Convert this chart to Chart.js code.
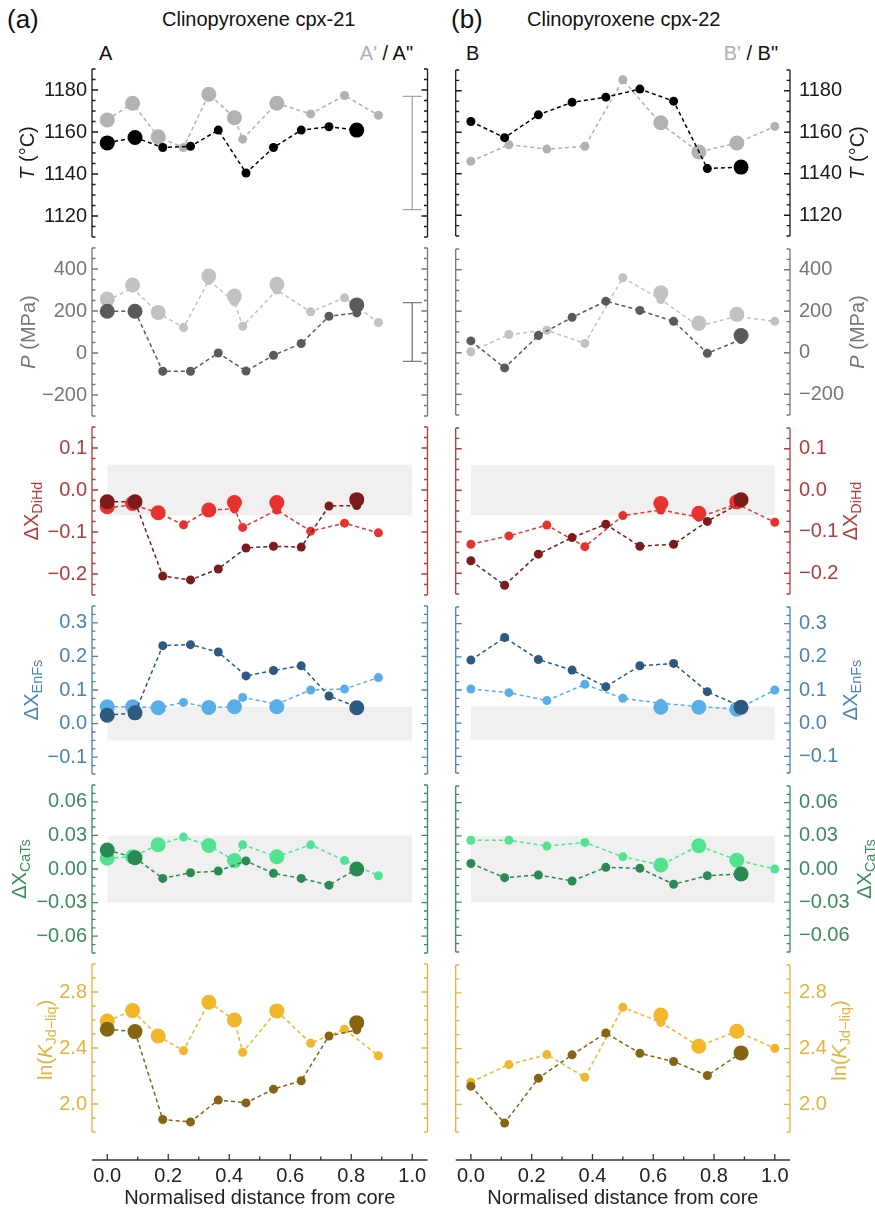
<!DOCTYPE html>
<html>
<head>
<meta charset="utf-8">
<script src="https://cdn.jsdelivr.net/npm/chart.js@4.4.1/dist/chart.umd.min.js"></script>
<style>
  body { margin: 0; background: #fff; }
  #fig { position: relative; width: 875px; height: 1212px; font-family: "Liberation Sans", Arial, sans-serif; color: #111; overflow: hidden; }
  #fig canvas { position: absolute; }
  .lbl { position: absolute; white-space: nowrap; transform: translateY(-50%); line-height: 1; }
</style>
</head>
<body>
<div id="fig">
  <div class="lbl" style="left:7px;top:19px;font-size:26px">(a)</div>
  <div class="lbl" style="left:162px;top:19px;font-size:20px">Clinopyroxene cpx-21</div>
  <div class="lbl" style="left:99px;top:53px;font-size:20px">A</div>
  <div class="lbl" style="right:462px;top:53px;font-size:20px"><span style="color:#b0b0b0">A'</span> / A"</div>
  <div class="lbl" style="left:451px;top:19px;font-size:26px">(b)</div>
  <div class="lbl" style="left:527px;top:19px;font-size:20px">Clinopyroxene cpx-22</div>
  <div class="lbl" style="left:466px;top:53px;font-size:20px">B</div>
  <div class="lbl" style="right:97px;top:53px;font-size:20px"><span style="color:#b0b0b0">B'</span> / B"</div>
</div>
<script>
// normalised positions of the analysis spots
const xA1 = [0, 0.083, 0.167, 0.25, 0.333, 0.417, 0.444, 0.556, 0.667, 0.778, 0.889]; // A'
const xA2 = [0, 0.091, 0.182, 0.273, 0.364, 0.455, 0.545, 0.636, 0.727, 0.818];        // A"
const xB1 = [0, 0.125, 0.25, 0.375, 0.5, 0.625, 0.75, 0.875, 1.0];                     // B'
const xB2 = [0, 0.111, 0.222, 0.333, 0.444, 0.556, 0.667, 0.778, 0.889];               // B"
const xTicks = [0, 0.2, 0.4, 0.6, 0.8, 1.0];

// temperature (°C)
const tA1 = [1165.7, 1173.7, 1157.7, 1152.6, 1178, 1166.8, 1156.6, 1173.7, 1168.6, 1177.4, 1168];
const tA1big = [1165.7, 1173.7, 1157.7, null, 1178, 1166.8, null, 1173.7, null, null, null];
const tA2 = [1154.8, 1157.4, 1152.6, 1153.2, 1160.9, 1140.5, 1152.6, 1160.9, 1162.5, 1160.9];
const tA2big = [1154.8, 1157.4, null, null, null, null, null, null, null, 1160.9];
const tB1 = [1146, 1154, 1151.9, 1153.2, 1185.3, 1164, 1150.5, 1154.8, 1162.8];
const tB1big = [null, null, null, null, null, 1164.6, 1150.5, 1154.8, null];
const tB2 = [1165.2, 1157.4, 1168.4, 1174.4, 1176.9, 1180.8, 1175, 1142.5, 1143.2];
const tB2big = [null, null, null, null, null, null, null, null, 1143.2];
const tTicks = [1120, 1140, 1160, 1180];
const errT = [1123, 1177];

// pressure (MPa)
const pA1 = [250, 310, 190, 121, 345, 244, 127.6, 299.6, 196, 262.8, 145];
const pA1big = [256.6, 323.5, 193, null, 366.5, 271, null, 326.8, null, null, null];
const pA2 = [199, 199, -87, -87, 0, -86, -11, 45, 175, 191];
const pA2big = [199, 199, null, null, null, null, null, null, null, 229];
const pB1 = [5, 88, 108.5, 45, 361.7, 256.6, 127.6, 175, 151.5];
const pB1big = [null, null, null, null, null, 288.6, 143, 185, null];
const pB2 = [57, -73, 83, 170.6, 248.5, 204, 151.5, -3, 64];
const pB2big = [null, null, null, null, null, null, null, null, 83];
const pTicks = [-200, 0, 200, 400];
const errP = [-40, 240];

// delta X DiHd
const dA1 = [-0.043, -0.035, -0.054, -0.083, -0.0475, -0.045, -0.089, -0.0475, -0.098, -0.079, -0.102];
const dA1big = [-0.040, -0.032, -0.054, null, -0.0475, -0.030, null, -0.030, null, null, null];
const dA2 = [-0.028, -0.028, -0.205, -0.214, -0.188, -0.138, -0.134, -0.136, -0.038, -0.037];
const dA2big = [-0.028, -0.028, null, null, null, null, null, null, null, -0.023];
const dB1 = [-0.130, -0.110, -0.084, -0.136, -0.061, -0.0475, -0.065, -0.033, -0.077];
const dB1big = [null, null, null, null, null, -0.032, -0.0555, -0.028, null];
const dB2 = [-0.170, -0.229, -0.154, -0.114, -0.082, -0.135, -0.130, -0.075, -0.029];
const dB2big = [null, null, null, null, null, null, null, null, -0.023];
const dTicks = [-0.2, -0.1, 0, 0.1];
const dBand = [-0.06, 0.06];

// delta X EnFs
const eA1 = [0.050, 0.050, 0.047, 0.063, 0.048, 0.050, 0.078, 0.058, 0.100, 0.103, 0.137];
const eA1big = [0.050, 0.050, 0.047, null, 0.048, 0.050, null, 0.050, null, null, null];
const eA2 = [0.025, 0.032, 0.232, 0.235, 0.213, 0.142, 0.158, 0.172, 0.082, 0.050];
const eA2big = [0.025, 0.032, null, null, null, null, null, null, null, 0.047];
const eB1 = [0.103, 0.092, 0.068, 0.117, 0.075, 0.060, 0.050, 0.042, 0.100];
const eB1big = [null, null, null, null, null, 0.048, 0.048, 0.042, null];
const eB2 = [0.190, 0.258, 0.192, 0.160, 0.110, 0.173, 0.180, 0.095, 0.050];
const eB2big = [null, null, null, null, null, null, null, null, 0.048];
const eTicks = [-0.1, 0, 0.1, 0.2, 0.3];
const eBand = [-0.05, 0.05];

// delta X CaTs
const cA1 = [0.0096, 0.011, 0.0216, 0.0285, 0.021, 0.0075, 0.0216, 0.011, 0.0216, 0.0075, -0.006];
const cA1big = [0.0096, 0.011, 0.0216, null, 0.021, 0.0075, null, 0.011, null, null, null];
const cA2 = [0.017, 0.010, -0.0084, -0.0033, -0.0018, 0.0072, -0.0039, -0.0084, -0.0144, 0.000];
const cA2big = [0.017, 0.010, null, null, null, null, null, null, null, 0.000];
const cB1 = [0.026, 0.026, 0.0207, 0.024, 0.011, 0.0036, 0.021, 0.008, 0.000];
const cB1big = [null, null, null, null, null, 0.0036, 0.021, 0.008, null];
const cB2 = [0.005, -0.0078, -0.0054, -0.0108, 0.0015, 0.0006, -0.0138, -0.006, -0.0045];
const cB2big = [null, null, null, null, null, null, null, null, -0.0045];
const cTicks = [-0.06, -0.03, 0, 0.03, 0.06];
const cBand = [-0.03, 0.03];

// ln(K Jd-liq)
const kA1 = [2.593, 2.667, 2.486, 2.381, 2.727, 2.6, 2.369, 2.665, 2.434, 2.534, 2.345];
const kA1big = [2.593, 2.667, 2.486, null, 2.727, 2.6, null, 2.665, null, null, null];
const kA2 = [2.534, 2.517, 1.889, 1.872, 2.028, 2.008, 2.106, 2.166, 2.486, 2.529];
const kA2big = [2.534, 2.517, null, null, null, null, null, null, null, 2.581];
const kB1 = [2.159, 2.285, 2.357, 2.194, 2.696, 2.588, 2.417, 2.524, 2.402];
const kB1big = [null, null, null, null, null, 2.641, 2.417, 2.524, null];
const kB2 = [2.130, 1.865, 2.187, 2.355, 2.512, 2.366, 2.307, 2.207, 2.369];
const kB2big = [null, null, null, null, null, null, null, null, 2.369];
const kTicks = [2.0, 2.4, 2.8];

const FONT = '"Liberation Sans", Arial, sans-serif';
const TOP0 = 69, STEP = 179, FRAME_H = 168, PAD = 20, XGAP = 28, XAXIS_H = 52;
const TICK_SIZE = 20, TITLE_SIZE = 20;

const rows = [
  { min: 1110, max: 1190, ticks: tTicks, minor: 5, dec: 0, axis: '#1a1a1a', light: '#b2b2b2', dark: '#000000',
    title: [{ t: 'T', it: true }, { t: ' (°C)' }], tx: [28, 858],
    A: [tA1, tA1big, tA2, tA2big], B: [tB1, tB1big, tB2, tB2big], err: errT, errColor: '#a5a5a5' },
  { min: -300, max: 500, ticks: pTicks, minor: 50, dec: 0, axis: '#767676', light: '#c2c2c2', dark: '#5a5a5a',
    title: [{ t: 'P', it: true }, { t: ' (MPa)' }], tx: [29, 858],
    A: [pA1, pA1big, pA2, pA2big], B: [pB1, pB1big, pB2, pB2big], err: errP, errColor: '#7a7a7a' },
  { min: -0.25, max: 0.15, ticks: dTicks, minor: 0.025, dec: 1, axis: '#b33b3b', light: '#e8322f', dark: '#7b1b1b',
    title: [{ t: 'ΔX' }, { t: 'DiHd', sub: true }], tx: [32, 851], band: dBand,
    A: [dA1, dA1big, dA2, dA2big], B: [dB1, dB1big, dB2, dB2big] },
  { min: -0.15, max: 0.35, ticks: eTicks, minor: 0.025, dec: 1, axis: '#4a84b4', light: '#5aaee8', dark: '#2c5a80',
    title: [{ t: 'ΔX' }, { t: 'EnFs', sub: true }], tx: [32, 851], band: eBand,
    A: [eA1, eA1big, eA2, eA2big], B: [eB1, eB1big, eB2, eB2big] },
  { min: -0.075, max: 0.075, ticks: cTicks, minor: 0.0075, dec: 2, axis: '#3b8c5d', light: '#52e392', dark: '#2a8a54',
    title: [{ t: 'ΔX' }, { t: 'CaTs', sub: true }], tx: [20, 865], band: cBand,
    A: [cA1, cA1big, cA2, cA2big], B: [cB1, cB1big, cB2, cB2big] },
  { min: 1.8, max: 3.0, ticks: kTicks, minor: 0.1, dec: 1, axis: '#e5b23b', light: '#f2b62a', dark: '#856514',
    title: [{ t: 'ln(' }, { t: 'K', it: true }, { t: 'Jd−liq', sub: true }, { t: ')' }], tx: [46, 840], ty: -8,
    A: [kA1, kA1big, kA2, kA2big], B: [kB1, kB1big, kB2, kB2big] }
];

const cols = [
  { key: 'A', xs: [xA1, xA2], left: 0, width: 440, pos: 'left', axisW: 92, padL: 0, padR: 12.5, tickPad: 5 },
  { key: 'B', xs: [xB1, xB2], left: 440, width: 435, pos: 'right', axisW: 85, padL: 15.7, padR: 0, tickPad: 9 }
];

const fmt = (v, dec) => v.toFixed(dec).replace('-', '\u2212');
const pts = (xs, ys) => xs.map((x, i) => ({ x, y: ys[i] })).filter((p) => p.y !== null);

function drawRich(ctx, segs, cx, cy, size, color) {
  ctx.save();
  ctx.translate(cx, cy);
  ctx.rotate(-Math.PI / 2);
  let total = 0;
  const parts = segs.map((s) => {
    const fs = s.sub ? size * 0.72 : size;
    const font = (s.it ? 'italic ' : '') + fs + 'px ' + FONT;
    ctx.font = font;
    const w = ctx.measureText(s.t).width;
    total += w;
    return { s, font, w };
  });
  let x = -total / 2;
  ctx.fillStyle = color;
  ctx.textBaseline = 'middle';
  ctx.textAlign = 'left';
  parts.forEach((p) => {
    ctx.font = p.font;
    ctx.fillText(p.s.t, x, p.s.sub ? size * 0.32 : 0);
    x += p.w;
  });
  ctx.restore();
}

// spines with inward ticks, optional bottom axis, and the rotated y title
const framePlugin = {
  id: 'frame',
  afterDraw(chart, args, o) {
    const { ctx, chartArea: a } = chart;
    const y = chart.scales.y;
    const x = chart.scales.x;
    const top = y.getPixelForValue(o.max);
    const bot = y.getPixelForValue(o.min);
    ctx.save();
    ctx.strokeStyle = o.color;
    ctx.lineWidth = 1.3;
    ctx.beginPath();
    ctx.moveTo(a.left, top); ctx.lineTo(a.left, bot);
    ctx.moveTo(a.right, top); ctx.lineTo(a.right, bot);
    const n = Math.round((o.max - o.min) / o.minor);
    for (let i = 0; i <= n; i++) {
      const v = o.min + i * o.minor;
      const py = y.getPixelForValue(v);
      const len = o.ticks.some((m) => Math.abs(m - v) < o.minor / 10) ? 6 : 3.5;
      ctx.moveTo(a.left, py); ctx.lineTo(a.left + len, py);
      ctx.moveTo(a.right, py); ctx.lineTo(a.right - len, py);
    }
    ctx.stroke();
    if (o.xAxis) {
      ctx.strokeStyle = '#333';
      ctx.beginPath();
      ctx.moveTo(a.left, a.bottom); ctx.lineTo(a.right, a.bottom);
      for (let i = 0; i <= 10; i++) {
        const v = i / 10;
        const px = x.getPixelForValue(v);
        const len = i % 2 === 0 ? 6 : 3.5;
        ctx.moveTo(px, a.bottom); ctx.lineTo(px, a.bottom - len);
      }
      ctx.stroke();
    }
    ctx.restore();
    const cy = (top + bot) / 2 + (o.ty || 0);
    drawRich(ctx, o.title, o.tx, cy, TITLE_SIZE, o.color);
  }
};

const fig = document.getElementById('fig');

rows.forEach((r, ri) => {
  const isBottom = ri === rows.length - 1;
  const frameTop = TOP0 + STEP * ri;
  const pxPerUnit = FRAME_H / (r.max - r.min);
  const scaleMin = isBottom ? r.min - XGAP / pxPerUnit : r.min;
  const height = PAD + FRAME_H + (isBottom ? XGAP + XAXIS_H : PAD);

  cols.forEach((c, ci) => {
    const canvas = document.createElement('canvas');
    canvas.width = c.width;
    canvas.height = height;
    canvas.style.left = c.left + 'px';
    canvas.style.top = (frameTop - PAD) + 'px';
    fig.appendChild(canvas);

    const [l1, l1big, l2, l2big] = r[c.key];
    const datasets = [];
    if (r.band) {
      datasets.push({
        data: [{ x: 0, y: r.band[1] }, { x: 1, y: r.band[1] }],
        showLine: true, fill: { value: r.band[0] }, backgroundColor: '#f0f0f0',
        borderWidth: 0, pointRadius: 0, order: 10
      });
    }
    datasets.push({
      data: pts(c.xs[0], l1), showLine: true, borderColor: r.light, borderWidth: 1.5, borderDash: [4, 3],
      pointRadius: 4.5, pointBackgroundColor: r.light, pointBorderWidth: 0, order: 6
    });
    datasets.push({
      data: pts(c.xs[0], l1big), showLine: false,
      pointRadius: 7.5, pointBackgroundColor: r.light, pointBorderWidth: 0, order: 5
    });
    datasets.push({
      data: pts(c.xs[1], l2), showLine: true, borderColor: r.dark, borderWidth: 1.5, borderDash: [4, 3],
      pointRadius: 4.5, pointBackgroundColor: r.dark, pointBorderWidth: 0, order: 4
    });
    datasets.push({
      data: pts(c.xs[1], l2big), showLine: false,
      pointRadius: 7.5, pointBackgroundColor: r.dark, pointBorderWidth: 0, order: 3
    });
    if (r.err && ci === 0) {
      datasets.push({
        data: [{ x: 1, y: r.err[0] }, { x: 1, y: r.err[1] }], showLine: true,
        borderColor: r.errColor, borderWidth: 1.3, pointStyle: 'line', pointRadius: 9.5,
        pointBorderColor: r.errColor, pointBorderWidth: 1.3, order: 2
      });
    }

    // eslint-disable-next-line no-new
    new Chart(canvas, {
      type: 'scatter',
      data: { datasets },
      options: {
        responsive: false,
        animation: false,
        events: [],
        layout: { padding: { top: PAD, bottom: isBottom ? 0 : PAD, left: c.padL, right: c.padR } },
        plugins: {
          legend: { display: false },
          tooltip: { enabled: false },
          frame: {
            min: r.min, max: r.max, minor: r.minor, ticks: r.ticks, color: r.axis,
            title: r.title, tx: r.tx[ci] - c.left, ty: r.ty, xAxis: isBottom
          }
        },
        scales: {
          x: {
            type: 'linear', min: -0.05, max: 1.05, display: isBottom, position: 'bottom',
            grid: { display: false, drawTicks: false }, border: { display: false },
            afterBuildTicks: (s) => { s.ticks = xTicks.map((v) => ({ value: v })); },
            afterFit: (s) => { if (isBottom) s.height = XAXIS_H; },
            ticks: { font: { family: FONT, size: TICK_SIZE }, color: '#222', padding: 4, maxRotation: 0,
              callback: (v) => fmt(v, 1) },
            title: { display: true, text: 'Normalised distance from core', color: '#222',
              font: { family: FONT, size: TICK_SIZE }, padding: { top: 0, bottom: 2 } }
          },
          y: {
            type: 'linear', position: c.pos, min: scaleMin, max: r.max,
            grid: { display: false, drawTicks: false }, border: { display: false },
            afterBuildTicks: (s) => { s.ticks = r.ticks.map((v) => ({ value: v })); },
            afterFit: (s) => { s.width = c.axisW; },
            ticks: { font: { family: FONT, size: TICK_SIZE }, color: r.axis, padding: c.tickPad,
              callback: (v) => fmt(v, r.dec) }
          }
        }
      },
      plugins: [framePlugin]
    });
  });
});
</script>
</body>
</html>
